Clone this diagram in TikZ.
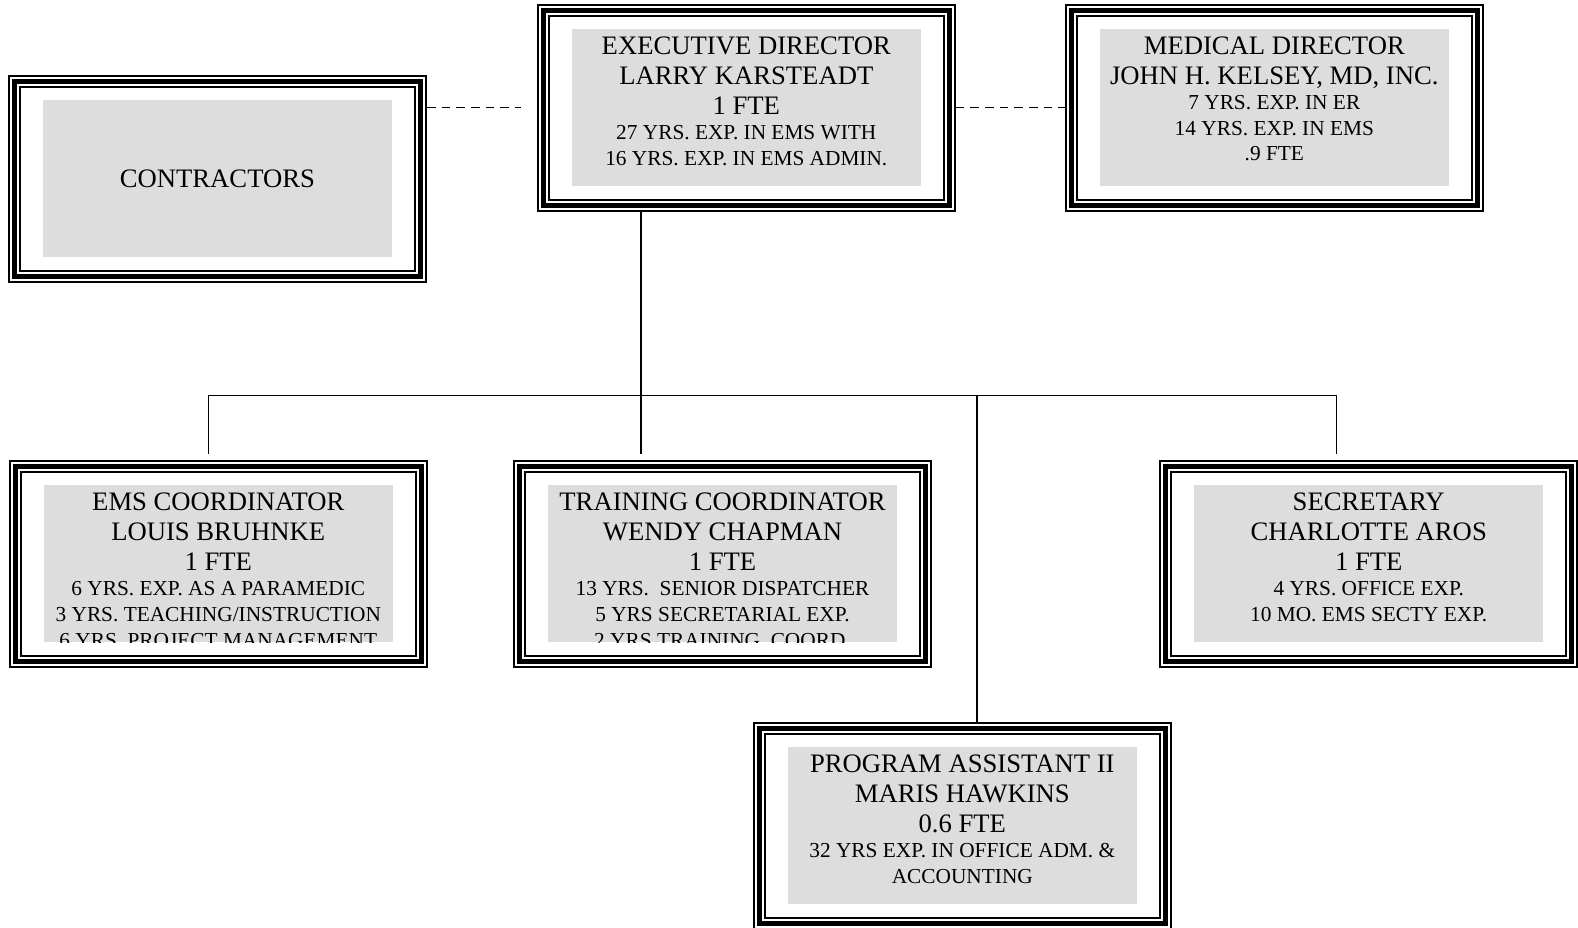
\documentclass[tikz,border=0pt]{standalone}
\usepackage{fontspec}
\setmainfont{Liberation Serif}
\frenchspacing
\newcommand\bigtxt{\fontsize{20}{22.5}\selectfont\spaceskip=0.25em\relax}
\newcommand\smalltxt{\fontsize{16}{19.2}\selectfont\spaceskip=0.25em\relax}
\definecolor{boxgray}{RGB}{221,221,221}
\begin{document}
\begin{tikzpicture}[x=0.75pt,y=-0.75pt]
  \tikzstyle{every node}=[inner sep=0pt]
  \tikzstyle{tripleframe}=[draw,line width=9.75pt,minimum width=304.5pt,minimum height=146.25pt,
    postaction={draw=white,line width=6.75pt},postaction={draw=black,line width=3.75pt}]
  \tikzstyle{panel}=[fill=boxgray,minimum width=261.75pt,minimum height=117.5pt]
  \tikzstyle{boxtext}=[anchor=base,text width=261.75pt,align=center]
  \tikzstyle{link}=[line width=1.2pt]
  \tikzstyle{dashlink}=[link,dash pattern=on 6.5pt off 4.5pt]
  \useasboundingbox (0,0) rectangle (1578,928);
  \node (cont) [tripleframe] at (217.4,178.6) {};
  \node (exec) [tripleframe] at (746.3,107.5) {};
  \node (med) [tripleframe] at (1274.3,107.5) {};
  \node (ems) [tripleframe] at (218.3,563.7) {};
  \node (train) [tripleframe] at (722.5,563.7) {};
  \node (sec) [tripleframe] at (1368.7,563.7) {};
  \node (prog) [tripleframe] at (962.3,825.5) {};
  \node (contp) [panel,path picture={\node (contt) [font=\bigtxt] at (path picture bounding box.center) {CONTRACTORS};}] at (cont) {};
  \node (execp) [panel,path picture={\node (exect) [boxtext] at ([yshift=-18.75pt]path picture bounding box.north)
    {\bigtxt EXECUTIVE DIRECTOR\\ LARRY KARSTEADT\\ 1 FTE\endgraf{\smalltxt 27 YRS. EXP. IN EMS WITH\\ 16 YRS. EXP. IN EMS ADMIN.\endgraf}};}] at (exec) {};
  \node (medp) [panel,path picture={\node (medt) [boxtext] at ([yshift=-18.75pt]path picture bounding box.north)
    {\bigtxt MEDICAL DIRECTOR\\ JOHN H. KELSEY, MD, INC.\endgraf{\smalltxt 7 YRS. EXP. IN ER\\ 14 YRS. EXP. IN EMS\\ .9 FTE\endgraf}};}] at (med) {};
  \node (emsp) [panel,path picture={\node (emst) [boxtext] at ([yshift=-18.75pt]path picture bounding box.north)
    {\bigtxt EMS COORDINATOR\\ LOUIS BRUHNKE\\ 1 FTE\endgraf{\smalltxt 6 YRS. EXP. AS A PARAMEDIC\\ 3 YRS. TEACHING/INSTRUCTION\\ 6 YRS. PROJECT MANAGEMENT\endgraf}};}] at (ems) {};
  \node (trainp) [panel,path picture={\node (traint) [boxtext] at ([yshift=-18.75pt]path picture bounding box.north)
    {\bigtxt TRAINING COORDINATOR\\ WENDY CHAPMAN\\ 1 FTE\endgraf{\smalltxt 13 YRS.~ SENIOR DISPATCHER\\ 5 YRS SECRETARIAL EXP.\\ 2 YRS TRAINING~ COORD.\endgraf}};}] at (train) {};
  \node (secp) [panel,path picture={\node (sect) [boxtext] at ([yshift=-18.75pt]path picture bounding box.north)
    {\bigtxt SECRETARY\\ CHARLOTTE AROS\\ 1 FTE\endgraf{\smalltxt 4 YRS. OFFICE EXP.\\ 10 MO. EMS SECTY EXP.\endgraf}};}] at (sec) {};
  \node (progp) [panel,path picture={\node (progt) [boxtext] at ([yshift=-18.75pt]path picture bounding box.north)
    {\bigtxt PROGRAM ASSISTANT II\\ MARIS HAWKINS\\ 0.6 FTE\endgraf{\smalltxt 32 YRS EXP. IN OFFICE ADM. \&\\ ACCOUNTING\endgraf}};}] at (prog) {};
  \coordinate (bl) at (208.3,395.5);
  \coordinate (br) at (1336.5,395.5);
  \coordinate (bm) at (640.7,395.5);
  \coordinate (bp) at (977,395.5);
  \coordinate (dl) at (521,107.5);
  \draw [link] (bl) -- (br);
  \draw [link,shorten >=4.5pt] (exec.south -| bm) -- (train.north -| bm);
  \draw [link,shorten >=4.5pt] (bl) -- (ems.north -| bl);
  \draw [link,shorten >=4.5pt] (br) -- (sec.north -| br);
  \draw [link] (bp) -- (prog.north -| bp);
  \draw [dashlink] (cont.east |- dl) -- (dl);
  \draw [dashlink] (exec.east) -- (med.west);
\end{tikzpicture}
\end{document}
